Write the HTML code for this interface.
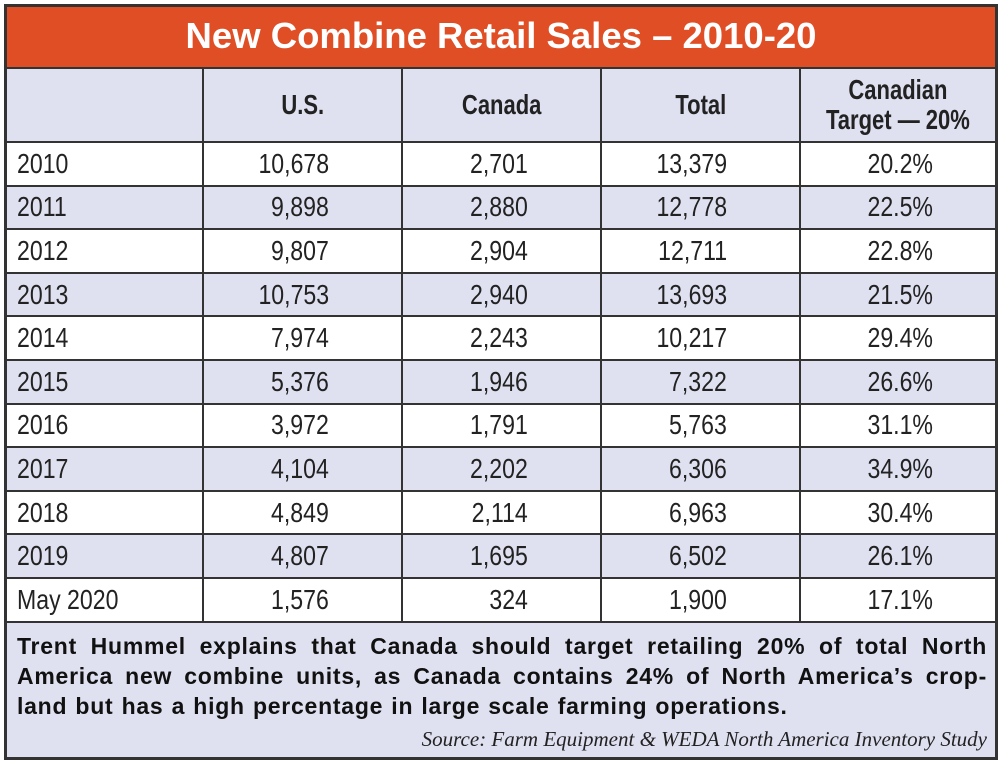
<!DOCTYPE html>
<html><head><meta charset="utf-8"><style>
body{margin:0;width:1000px;height:763px;background:#fff;overflow:hidden}
.box{position:absolute;left:4px;top:4px;width:988px;height:750px;border:3px solid #333;background:#dfe1f1}
.title{position:absolute;left:0;top:0;width:988px;height:60px;background:#e04e26;color:#fff;font:bold 36.5px "Liberation Sans",sans-serif;text-align:center;line-height:58px;border-bottom:2px solid #333}
table{position:absolute;left:0;top:62px;border-collapse:collapse;width:988px;font-family:"Liberation Sans",sans-serif;font-size:27.5px;color:#222}
td{border:2px solid #333;height:41.6px;padding:0;text-align:right}
td span{display:inline-block;transform:scaleX(0.84);transform-origin:right center}
tr:first-child td{border-top:none}
td:first-child{border-left:none;text-align:left;padding-left:10px}
td:first-child span{transform-origin:left center}
td:last-child{border-right:none;padding-right:62px}
td.n{padding-right:72px}
tr.h td{height:72px;font-weight:bold;text-align:center;background:#dfe1f1;line-height:30px;padding:0}
tr.h td span{transform-origin:center center;transform:scaleX(0.8)}
tr.w td{background:#fff}
tr.l td{background:#dfe1f1}
.foot{position:absolute;left:10px;top:624px;width:970px;font:bold 23px "Liberation Sans",sans-serif;letter-spacing:0.75px;word-spacing:1px;color:#111;text-align:justify;line-height:30px}
.src{position:absolute;right:8px;top:720px;font:italic 21px "Liberation Serif",serif;color:#222}
</style></head><body>
<div class="box">
<div class="title">New Combine Retail Sales – 2010-20</div>
<table>
<colgroup><col style="width:196px"><col style="width:199px"><col style="width:199px"><col style="width:199px"><col></colgroup>
<tr class="h"><td></td><td><span>U.S.</span></td><td><span>Canada</span></td><td><span>Total</span></td><td><span>Canadian<br>Target — 20%</span></td></tr>
<tr class="w"><td><span>2010</span></td><td class="n"><span>10,678</span></td><td class="n"><span>2,701</span></td><td class="n"><span>13,379</span></td><td><span>20.2%</span></td></tr>
<tr class="l"><td><span>2011</span></td><td class="n"><span>9,898</span></td><td class="n"><span>2,880</span></td><td class="n"><span>12,778</span></td><td><span>22.5%</span></td></tr>
<tr class="w"><td><span>2012</span></td><td class="n"><span>9,807</span></td><td class="n"><span>2,904</span></td><td class="n"><span>12,711</span></td><td><span>22.8%</span></td></tr>
<tr class="l"><td><span>2013</span></td><td class="n"><span>10,753</span></td><td class="n"><span>2,940</span></td><td class="n"><span>13,693</span></td><td><span>21.5%</span></td></tr>
<tr class="w"><td><span>2014</span></td><td class="n"><span>7,974</span></td><td class="n"><span>2,243</span></td><td class="n"><span>10,217</span></td><td><span>29.4%</span></td></tr>
<tr class="l"><td><span>2015</span></td><td class="n"><span>5,376</span></td><td class="n"><span>1,946</span></td><td class="n"><span>7,322</span></td><td><span>26.6%</span></td></tr>
<tr class="w"><td><span>2016</span></td><td class="n"><span>3,972</span></td><td class="n"><span>1,791</span></td><td class="n"><span>5,763</span></td><td><span>31.1%</span></td></tr>
<tr class="l"><td><span>2017</span></td><td class="n"><span>4,104</span></td><td class="n"><span>2,202</span></td><td class="n"><span>6,306</span></td><td><span>34.9%</span></td></tr>
<tr class="w"><td><span>2018</span></td><td class="n"><span>4,849</span></td><td class="n"><span>2,114</span></td><td class="n"><span>6,963</span></td><td><span>30.4%</span></td></tr>
<tr class="l"><td><span>2019</span></td><td class="n"><span>4,807</span></td><td class="n"><span>1,695</span></td><td class="n"><span>6,502</span></td><td><span>26.1%</span></td></tr>
<tr class="w"><td><span>May 2020</span></td><td class="n"><span>1,576</span></td><td class="n"><span>324</span></td><td class="n"><span>1,900</span></td><td><span>17.1%</span></td></tr>
</table>
<div class="foot">Trent Hummel explains that Canada should target retailing 20% of total North America new combine units, as Canada contains 24% of North America’s crop-land but has a high percentage in large scale farming operations.</div>
<div class="src">Source: Farm Equipment &amp; WEDA North America Inventory Study</div>
</div>
</body></html>
